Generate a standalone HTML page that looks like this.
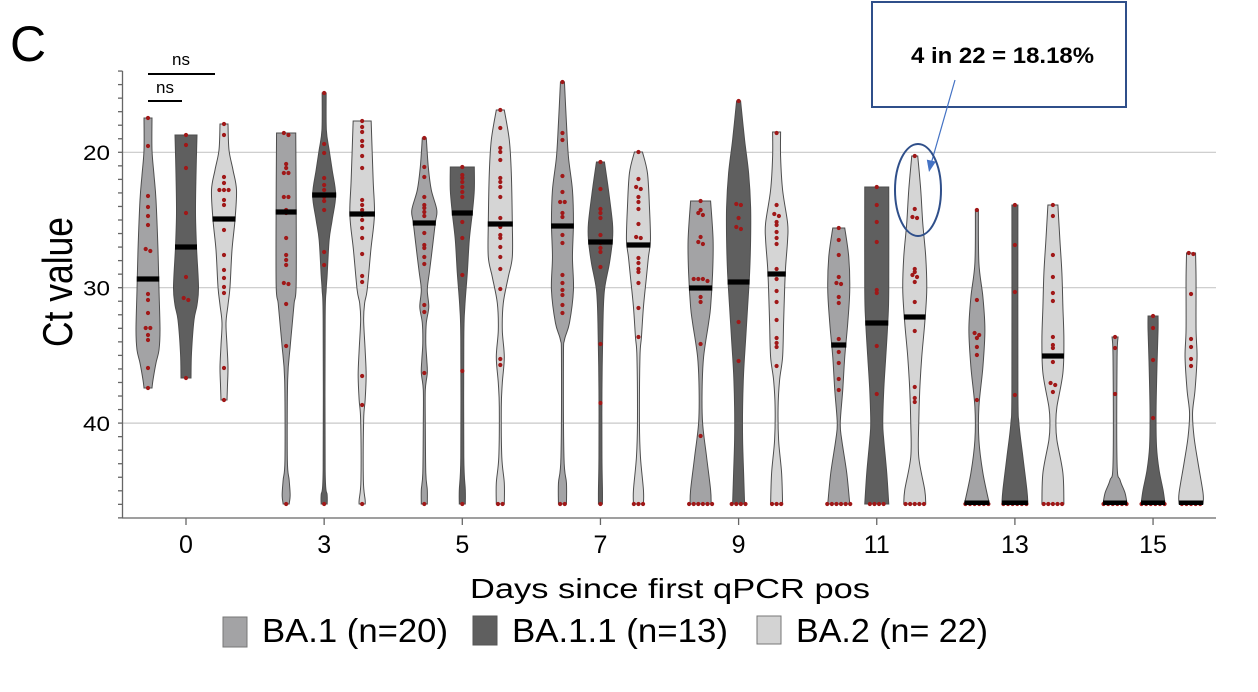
<!DOCTYPE html>
<html><head><meta charset="utf-8"><style>
html,body{margin:0;padding:0;background:#fff;}
svg{display:block;}
text{font-family:"Liberation Sans",Arial,sans-serif;fill:#000;}
</style></head><body>
<svg id="s" width="1258" height="692" viewBox="0 0 1258 692" xmlns="http://www.w3.org/2000/svg">
<rect width="1258" height="692" fill="#fff"/>
<g stroke="#c8c8c8" stroke-width="1.2">
<line x1="123" y1="152.3" x2="1216" y2="152.3"/>
<line x1="123" y1="287.7" x2="1216" y2="287.7"/>
<line x1="123" y1="423.1" x2="1216" y2="423.1"/>
</g>
<g id="vio"></g>
<g id="axes" stroke="#666" stroke-width="1.3" fill="none">
<line x1="122.5" y1="71" x2="122.5" y2="518"/>
<line x1="122" y1="518" x2="1216" y2="518"/>
</g>
<text x="10" y="61" font-size="50">C</text>
<g stroke="#000" stroke-width="2">
<line x1="148" y1="74" x2="215" y2="74"/>
<line x1="148" y1="101" x2="182" y2="101"/>
</g>
<text x="181" y="65" font-size="17" text-anchor="middle">ns</text>
<text x="165" y="93" font-size="17" text-anchor="middle">ns</text>
<text x="83" y="160" font-size="21" textLength="27" lengthAdjust="spacingAndGlyphs">20</text>
<text x="83" y="295.5" font-size="21" textLength="27" lengthAdjust="spacingAndGlyphs">30</text>
<text x="83" y="431" font-size="21" textLength="27" lengthAdjust="spacingAndGlyphs">40</text>
<text transform="translate(72,282) rotate(-90)" font-size="42" text-anchor="middle" textLength="130" lengthAdjust="spacingAndGlyphs">Ct value</text>
<g id="xl" font-size="25"></g>
<text x="470" y="598" font-size="28" textLength="400" lengthAdjust="spacingAndGlyphs">Days since first qPCR pos</text>
<rect x="223" y="617" width="24" height="30" fill="#a3a3a5" stroke="#777" stroke-width="1"/>
<text x="262" y="642" font-size="33" textLength="186" lengthAdjust="spacingAndGlyphs">BA.1 (n=20)</text>
<rect x="473" y="616" width="24" height="29" fill="#5f5f5f" stroke="#555" stroke-width="1"/>
<text x="512" y="642" font-size="33" textLength="216" lengthAdjust="spacingAndGlyphs">BA.1.1 (n=13)</text>
<rect x="757" y="616" width="24" height="28" fill="#d3d3d3" stroke="#777" stroke-width="1"/>
<text x="796" y="642" font-size="33" textLength="192" lengthAdjust="spacingAndGlyphs">BA.2 (n= 22)</text>
<rect x="872" y="2" width="254" height="105" fill="#fff" stroke="#2f4f8a" stroke-width="2"/>
<text x="911" y="63" font-size="22" font-weight="bold" textLength="183" lengthAdjust="spacingAndGlyphs">4 in 22 = 18.18%</text>
<line x1="955" y1="80" x2="931" y2="164" stroke="#4472c4" stroke-width="1.2"/>
<polygon points="929,172 935.9,161.6 926.8,159.6" fill="#4472c4"/>
<ellipse cx="918" cy="190" rx="23" ry="46" fill="none" stroke="#2f4f8a" stroke-width="2"/>
</svg>
<script>
(function(){
const NS="http://www.w3.org/2000/svg";
const svg=document.getElementById("s");
const vg=document.getElementById("vio");
const axes=document.getElementById("axes");
const xl=document.getElementById("xl");
const cols=["#a3a3a5","#5f5f5f","#d5d5d5"];
function el(tag,a,p){const e=document.createElementNS(NS,tag);for(const k in a)e.setAttribute(k,a[k]);p.appendChild(e);return e;}
const centers=[];for(let k=0;k<8;k++)centers.push(186+k*138.15);
const days=["0","3","5","7","9","11","13","15"];
// [day index, series, shape, median, points, bottomCount]
const V=[
[0,0,[[118,4],[150,4],[175,6],[200,8],[250,10],[290,11],[330,12],[350,11],[363,8],[380,5],[388,4]],279,[118,146,196,207,216,225,249,251,294,300,313,328,328,335,340,368,388],0],
[0,1,[[135,11],[175,10],[213,9.5],[247,10.5],[287,12.5],[305,11],[320,8],[353,5.5],[378,5]],247,[135,145,168,213,277,298,300,378],0],
[0,2,[[124,4],[150,5],[170,9],[190,12.5],[220,11],[250,8],[287,6],[305,4],[323,2],[345,3],[367,4],[385,3.5],[400,3]],219,[124,135,177,183,190,190,190,200,205,230,255,270,278,287,293,368,400],0],
[1,0,[[133,9.6],[200,10],[285,10],[303,8],[325,6],[347,4],[380,1.5],[460,1.2],[480,3],[495,4],[504,3]],212,[133,135,164,168,173,173,197,197,210,213,238,255,260,265,283,284,304,346],1],
[1,1,[[93,2],[130,2.2],[150,5],[170,8],[195,11.5],[220,8],[240,5],[275,3],[290,2],[320,1],[470,1],[495,3],[504,3]],195,[93,144,153,178,185,190,197,201,210,252,265],1],
[1,2,[[121,9],[180,11],[215,12.3],[250,8.7],[290,5],[303,2.5],[320,1.5],[350,3],[375,4],[400,3],[420,1.5],[480,1.2],[500,3],[504,3]],214,[121,127,132,141,146,156,168,200,205,210,215,220,228,238,254,276,282,376,405],1],
[2,0,[[138,2],[167,4],[190,7],[210,12.5],[223,11],[257,7],[273,5],[290,3],[307,4.5],[323,2],[343,1.5],[360,2.5],[373,3],[390,1],[423,1],[473,1.5],[490,3],[504,3]],223,[138,167,177,197,205,208,212,216,233,245,248,257,264,305,312,373],1],
[2,1,[[167,12],[190,12],[213,10],[240,7],[273,5],[307,2.5],[340,1.5],[457,1.5],[490,3],[504,3]],213,[167,175,178,182,187,192,197,222,238,275,371],1],
[2,2,[[110,4],[140,9],[173,11],[223,12],[257,12],[277,8],[303,3],[330,2],[357,4],[383,2],[407,1],[457,1.5],[483,4],[504,4]],224,[110,128,148,152,160,178,182,187,197,218,227,235,238,247,257,269,289,359,365],2],
[3,0,[[82,2],[123,4],[157,6],[190,10],[223,11],[257,10],[290,11],[323,7],[340,2],[357,1],[457,1.5],[483,4],[504,4]],226,[82,133,140,176,192,202,202,213,217,235,243,275,283,290,295,305,313],2],
[3,1,[[162,4],[190,8],[223,12],[240,12],[263,9],[290,4],[323,2.5],[390,1.5],[457,1.5],[490,2],[504,2]],242,[162,189,209,213,218,235,243,248,252,267,344,403],1],
[3,2,[[152,4],[173,9],[207,11],[240,12],[257,10],[277,8],[307,5],[337,3],[357,1.5],[423,1],[457,2],[490,5],[504,5]],245,[152,179,187,189,197,202,209,224,237,238,245,258,263,269,272,283,308,337],3],
[4,0,[[201,10],[240,12.5],[273,12],[307,10],[323,8],[357,3],[390,1.5],[423,2],[457,6],[490,10],[504,10.5]],288,[201,210,213,215,237,242,244,279,279,279,281,297,302,344,436],6],
[4,1,[[101,2],[140,6],[173,10],[207,12],[240,12],[273,11],[307,9],[340,7],[373,5],[407,4],[440,4],[473,5],[504,6]],282,[101,204,205,218,227,229,322,361],4],
[4,2,[[132,4],[157,4],[190,6],[223,11],[240,11],[267,9],[290,8],[323,7],[357,6],[380,3],[407,1.5],[440,2],[473,5],[504,6]],274,[133,205,214,216,222,225,232,238,244,269,279,291,302,320,338,343,347,366],3],
[5,0,[[228,6],[257,10],[290,11],[323,9],[357,6],[390,4],[423,1.5],[440,3],[473,8],[504,11]],345,[228,240,255,277,283,284,297,303,339,352,363,379,390],6],
[5,1,[[187,12],[290,12],[323,11],[357,9],[390,7],[423,6],[440,7],[473,10],[504,12]],323,[187,205,222,242,290,293,346,394],4],
[5,2,[[156,3],[190,6],[223,8],[257,11],[290,12],[323,10],[357,7],[390,5],[423,4],[457,4],[490,10],[504,11]],317,[156,209,217,218,269,272,275,277,282,302,331,387,398,402],5],
[6,0,[[210,1.5],[263,2],[297,6],[330,8],[367,6],[407,2],[440,2],[473,6],[504,12.5]],504,[210,300,333,335,338,347,355,400],6],
[6,1,[[205,3],[390,3],[423,4],[457,8],[490,12],[504,13]],504,[205,245,292,395],6],
[6,2,[[205,5],[240,7],[273,9],[307,10],[340,11],[373,10],[407,4],[423,3],[440,4],[473,10],[504,11]],356,[205,216,255,277,293,301,337,345,348,362,383,385,392],5],
[7,0,[[337,3],[360,2],[463,2],[480,5],[493,10],[504,12]],504,[337,348,394],6],
[7,1,[[316,5],[330,5],[363,4],[413,3],[447,3.5],[470,6],[490,10],[504,12]],504,[316,328,360,418],6],
[7,2,[[253,4.5],[280,5],[330,5],[357,6],[390,4],[413,1.5],[437,3],[463,7],[493,12],[504,12]],504,[253,254,294,339,347,359,366],5]
];
function f(v){return v.toFixed(2);}
function cr(p){
 let d="";
 for(let i=0;i<p.length-1;i++){
  const p0=p[i-1]||p[i],p1=p[i],p2=p[i+1],p3=p[i+2]||p2;
  const c1=[p1[0]+(p2[0]-p0[0])/6,p1[1]+(p2[1]-p0[1])/6];
  const c2=[p2[0]-(p3[0]-p1[0])/6,p2[1]-(p3[1]-p1[1])/6];
  d+=" C"+f(c1[0])+","+f(c1[1])+" "+f(c2[0])+","+f(c2[1])+" "+f(p2[0])+","+f(p2[1]);
 }
 return d;
}
function hwAt(s,y){
 if(y<=s[0][0])return s[0][1];
 for(let i=0;i<s.length-1;i++){
  if(y>=s[i][0]&&y<=s[i+1][0]){const t=(y-s[i][0])/(s[i+1][0]-s[i][0]);return s[i][1]+t*(s[i+1][1]-s[i][1]);}
 }
 return s[s.length-1][1];
}
const offs=[-38,0,38];
const gV=el("g",{},vg),gM=el("g",{},vg),gD=el("g",{},vg);
V.forEach(v=>{
 const x=centers[v[0]]+offs[v[1]];
 const s=v[2];
 const R=s.map(a=>[x+a[1],a[0]]);
 const L=s.slice().reverse().map(a=>[x-a[1],a[0]]);
 const d="M"+f(R[0][0])+","+f(R[0][1])+cr(R)+" L"+f(L[0][0])+","+f(L[0][1])+cr(L)+" Z";
 el("path",{d:d,fill:cols[v[1]],stroke:"#4d4d4d","stroke-width":"1"},gV);
 // points
 let pts=v[4].slice();for(let i=0;i<v[5];i++)pts.push(504);
 pts.sort((a,b)=>a-b);
 const groups=[];let cur=[];
 pts.forEach(y=>{if(cur.length&&y-cur[cur.length-1]>2.5){groups.push(cur);cur=[];}cur.push(y);});
 if(cur.length)groups.push(cur);
 groups.forEach(g=>{const m=g.length;g.forEach((y,i)=>{el("circle",{cx:f(x+(i-(m-1)/2)*4.6),cy:f(Math.min(y,504.5)),r:"2.1",fill:"#a01818"},gD);});});
 // median
 const med=v[3];
 if(med>=503){
  const hw=s[s.length-1][1];
  el("rect",{x:f(x-hw),y:"500.5",width:f(2*hw),height:"4.5",fill:"#000"},gM);
 } else {
  const hw=Math.max(hwAt(s,med),5);
  el("rect",{x:f(x-hw-0.5),y:f(med-2.6),width:f(2*hw+1),height:"5.2",fill:"#000"},gM);
 }
});
// move medians above dots for interior ones
vg.appendChild(gM);
// y ticks
for(let ct=14;ct<=47;ct++){
 const y=152.3+(ct-20)*13.54;
 el("line",{x1:"118",y1:f(y),x2:"122.5",y2:f(y)},axes);
}
centers.forEach((cx,i)=>{
 el("line",{x1:f(cx),y1:"518",x2:f(cx),y2:"525"},axes);
 const t=el("text",{x:f(cx),y:"553","text-anchor":"middle"},xl);t.textContent=days[i];
});
})();
</script>
</body></html>
